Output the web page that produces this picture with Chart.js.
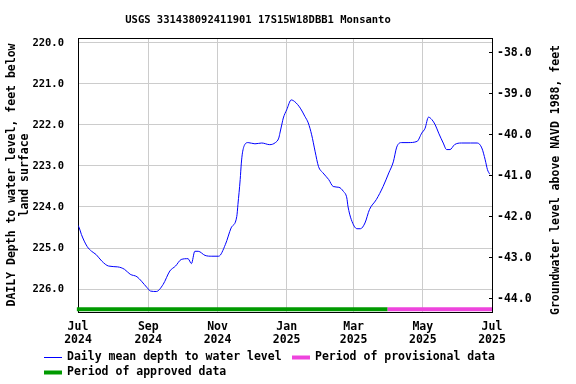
<!DOCTYPE html>
<html>
<head>
<meta charset="utf-8">
<script src="https://cdn.jsdelivr.net/npm/chart.js@4.4.1/dist/chart.umd.min.js"></script>
<style>
html, body { margin: 0; padding: 0; background: #fff; }
</style>
</head>
<body>
<canvas id="chart" width="576" height="384"></canvas>
<script>
// Days since 1 Jul 2024, and daily mean depth to water (feet below land surface).
const dayOffsets = [
	0, 1, 3, 8, 12, 16, 21, 27, 35, 41, 46, 52, 56, 61, 64, 69, 75, 81, 86, 91,
	97, 100, 103, 106, 112, 118, 124, 130, 135, 140, 141, 143, 144, 145, 147, 150, 156, 162, 169, 174,
	177, 178, 180, 181, 184, 188, 191, 196, 200, 203, 206, 209, 212, 216, 221, 225, 230, 234, 237, 238,
	241, 246, 249, 253, 257, 263, 269, 274, 278, 281, 285, 291, 299, 303, 306, 309, 312, 315, 318, 322,
	325, 328, 332, 338, 346, 352, 356, 359, 361, 363,
]
const depthValues = [
	224.45, 224.50, 224.67, 224.96, 225.08, 225.16, 225.32, 225.44, 225.46, 225.52, 225.64, 225.70, 225.81, 225.97, 226.05, 226.06, 225.89, 225.56, 225.44, 225.28,
	225.26, 225.38, 225.08, 225.08, 225.18, 225.20, 225.20, 224.91, 224.51, 224.23, 223.94, 223.33, 222.93, 222.68, 222.48, 222.43, 222.46, 222.44, 222.48, 222.43,
	222.32, 222.20, 221.95, 221.83, 221.63, 221.39, 221.43, 221.59, 221.79, 221.95, 222.24, 222.64, 223.01, 223.17, 223.33, 223.50, 223.52, 223.62, 223.78, 223.98,
	224.31, 224.53, 224.53, 224.39, 224.06, 223.82, 223.50, 223.17, 222.90, 222.54, 222.43, 222.43, 222.40, 222.20, 222.08, 221.81, 221.87, 222.00, 222.20, 222.44,
	222.60, 222.60, 222.48, 222.44, 222.44, 222.44, 222.56, 222.85, 223.09, 223.20,
]

const approvedPeriod = [-1, 273] // days
const provisionalPeriod = [273, 365]
const periodBarDepth = 226.49

const xTickDays = [0, 62, 123, 184, 243, 304, 365]
const xTickLabels = [
	['Jul', '2024'], ['Sep', '2024'], ['Nov', '2024'], ['Jan', '2025'],
	['Mar', '2025'], ['May', '2025'], ['Jul', '2025'],
]
const depthTicks = [220, 221, 222, 223, 224, 225, 226]
const elevationTicks = [-44, -43, -42, -41, -40, -39, -38]

const datumOffset = 182.24 // elevation = datumOffset - depth
const depthRange = [219.88, 226.56]

const titleText = 'USGS 331438092411901 17S15W18DBB1 Monsanto'
const leftTitle = ['DAILY Depth to water level, feet below', 'land surface']
const rightTitle = 'Groundwater level above NAVD 1988, feet'

const colors = {
	line: '#0000ff',
	approved: '#009a00',
	provisional: '#ee44dd',
	grid: '#cccccc',
}

const monoFont = '"DejaVu Sans Mono", "Liberation Mono", monospace'
const tickFont = { family: monoFont, size: 10.5, weight: 'bold', lineHeight: 1.2 }

const toPoints = (xs, ys) => xs.map((x, i) => ({ x, y: ys[i] }))
const barPoints = period => period.map(x => ({ x, y: periodBarDepth }))

const decorations = {
	id: 'decorations',
	afterDraw(chart) {
		const { ctx, chartArea } = chart
		ctx.save()

		// top edge of the frame
		ctx.strokeStyle = '#000'
		ctx.lineWidth = 1
		ctx.beginPath()
		ctx.moveTo(chartArea.left, chartArea.top + 0.5)
		ctx.lineTo(chartArea.right, chartArea.top + 0.5)
		ctx.stroke()

		ctx.fillStyle = '#000'
		ctx.textBaseline = 'middle'

		ctx.font = `bold 10.5px ${monoFont}`
		ctx.textAlign = 'center'
		ctx.fillText(titleText, 258, 20)

		// right axis title, reads bottom to top
		ctx.font = `bold 11.5px ${monoFont}`
		ctx.save()
		ctx.translate(556, 180)
		ctx.rotate(-Math.PI / 2)
		ctx.fillText(rightTitle, 0, 0)
		ctx.restore()

		// legend
		ctx.textAlign = 'left'
		chart.data.datasets.forEach((ds, i) => {
			const [sx, sy] = [[44, 357], [292, 357], [44, 372]][i]
			ctx.strokeStyle = ds.borderColor
			ctx.lineWidth = i === 0 ? 1 : 4
			ctx.beginPath()
			ctx.moveTo(sx, sy + 0.5)
			ctx.lineTo(sx + 18, sy + 0.5)
			ctx.stroke()
			ctx.fillText(ds.label, sx + 23, sy)
		})

		ctx.restore()
	},
}

const chart = new Chart(document.getElementById('chart'), {
	type: 'line',
	data: {
		datasets: [
			{
				label: 'Daily mean depth to water level',
				data: toPoints(dayOffsets, depthValues),
				borderColor: colors.line,
				borderWidth: 1,
				pointRadius: 0,
				cubicInterpolationMode: 'monotone',
				yAxisID: 'y',
			},
			{
				label: 'Period of provisional data',
				data: barPoints(provisionalPeriod),
				borderColor: colors.provisional,
				borderWidth: 4,
				pointRadius: 0,
				yAxisID: 'y',
			},
			{
				label: 'Period of approved data',
				data: barPoints(approvedPeriod),
				borderColor: colors.approved,
				borderWidth: 4,
				pointRadius: 0,
				yAxisID: 'y',
				clip: false,
			},
		],
	},
	options: {
		responsive: false,
		animation: false,
		layout: { padding: { top: 38, left: 0, right: 0, bottom: 36 } },
		plugins: {
			legend: { display: false },
			tooltip: { enabled: false },
		},
		scales: {
			x: {
				type: 'linear',
				min: 0,
				max: 365,
				afterBuildTicks: scale => { scale.ticks = xTickDays.map(value => ({ value })) },
				afterFit: scale => { scale.height = 36 },
				ticks: {
					callback: (value, index) => xTickLabels[index],
					font: { family: monoFont, size: 11.5, weight: 'bold', lineHeight: 1.12 },
					color: '#000',
					padding: 9,
					maxRotation: 0,
					autoSkip: false,
				},
				grid: { color: colors.grid, drawTicks: false },
				border: { color: '#000' },
			},
			y: {
				position: 'left',
				reverse: true,
				min: depthRange[0],
				max: depthRange[1],
				afterBuildTicks: scale => { scale.ticks = depthTicks.map(value => ({ value })) },
				afterFit: scale => { scale.width = 78 },
				ticks: {
					callback: value => value.toFixed(1),
					font: tickFont,
					color: '#000',
					padding: 14,
				},
				grid: { color: colors.grid, drawTicks: false },
				border: { color: '#000' },
				title: {
					display: true,
					text: leftTitle,
					font: { family: monoFont, size: 11.5, weight: 'bold', lineHeight: 1.1 },
					color: '#000',
					padding: { top: 6, bottom: 0 },
				},
			},
			y2: {
				position: 'right',
				min: datumOffset - depthRange[1],
				max: datumOffset - depthRange[0],
				afterBuildTicks: scale => { scale.ticks = elevationTicks.map(value => ({ value })) },
				afterFit: scale => { scale.width = 84 },
				ticks: {
					callback: value => value.toFixed(1),
					font: { family: monoFont, size: 11.5, weight: 'bold' },
					color: '#000',
					padding: 8,
				},
				grid: { drawOnChartArea: false, color: '#000', tickLength: -3 },
				border: { color: '#000' },
			},
		},
	},
	plugins: [decorations],
})
</script>
</body>
</html>
